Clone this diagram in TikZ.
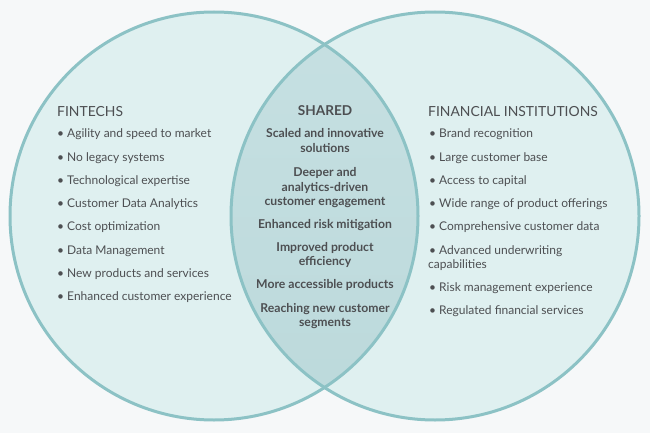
\documentclass[tikz,border=0pt]{standalone}
\usepackage{fontspec}
\setmainfont{Lato}
\definecolor{bgc}{HTML}{F6F8F9}
\definecolor{circfill}{HTML}{DFF0F0}
\definecolor{lensfill}{HTML}{C6E0E2}
\definecolor{lensdark}{HTML}{BCD9DB}
\definecolor{ringc}{HTML}{8CC2C5}
\definecolor{txtc}{HTML}{4D4F52}
\begin{document}
\begin{tikzpicture}[x=1pt,y=-1pt,
  ring/.style={draw=ringc, line width=3pt},
  ttl/.style={font=\fontsize{13.9}{16}\selectfont, text=txtc, inner sep=0pt, anchor=base west},
  ttlc/.style={font=\fontsize{13.6}{16}\selectfont\bfseries, text=txtc, inner sep=0pt, anchor=base},
  itm/.style={font=\fontsize{12}{14}\selectfont, text=txtc, inner sep=0pt, anchor=base west},
  shr/.style={font=\fontsize{12.2}{14}\selectfont\bfseries, text=txtc, inner sep=0pt, anchor=base}]
\fill[bgc] (0,0) rectangle (650,433);
\useasboundingbox (0,0) rectangle (650,433);
\coordinate (cl) at (214,216);
\coordinate (cr) at (435,216);
\fill[circfill] (cl) circle[radius=204pt];
\fill[circfill] (cr) circle[radius=204pt];
\begin{scope}
  \clip (cl) circle[radius=204pt];
  \shade[top color=lensfill, bottom color=lensdark] (cr) circle[radius=204pt];
\end{scope}
\draw[ring] (cl) circle[radius=204pt];
\draw[ring] (cr) circle[radius=204pt];

% Left
\node[ttl] (lt) at (57,117) {FINTECHS};
\node[itm] (l1) at (57,137.5) {• Agility and speed to market};
\node[itm] (l2) at (57,161) {• No legacy systems};
\node[itm] (l3) at (57,184.5) {• Technological expertise};
\node[itm] (l4) at (57,207.5) {• Customer Data Analytics};
\node[itm] (l5) at (57,230.5) {• Cost optimization};
\node[itm] (l6) at (57,254) {• Data Management};
\node[itm] (l7) at (57,277.5) {• New products and services};
\node[itm] (l8) at (57,300.5) {• Enhanced customer experience};

% Right
\node[ttl] (rt) at (428,117) {FINANCIAL INSTITUTIONS};
\node[itm] (r1) at (429,137.5) {• Brand recognition};
\node[itm] (r2) at (429,161) {• Large customer base};
\node[itm] (r3) at (429,184.5) {• Access to capital};
\node[itm] (r4) at (429,207.5) {• Wide range of product offerings};
\node[itm] (r5) at (429,230.5) {• Comprehensive customer data};
\node[itm] (r6) at (429,254) {• Advanced underwriting};
\node[itm] (r6b) at (428,268.5) {capabilities};
\node[itm] (r7) at (429,291.5) {• Risk management experience};
\node[itm] (r8) at (429,314.5) {• Regulated financial services};

% Shared
\node[ttlc] (st) at (325,116) {SHARED};
\node[shr] (s1a) at (325,137.5) {Scaled and innovative};
\node[shr] (s1b) at (325,152) {solutions};
\node[shr] (s2a) at (325,176.5) {Deeper and};
\node[shr] (s2b) at (325,191) {analytics-driven};
\node[shr] (s2c) at (325,205.5) {customer engagement};
\node[shr] (s3) at (325,228) {Enhanced risk mitigation};
\node[shr] (s4a) at (325,251) {Improved product};
\node[shr] (s4b) at (325,265.5) {efficiency};
\node[shr] (s5) at (325,288.5) {More accessible products};
\node[shr] (s6a) at (325,312) {Reaching new customer};
\node[shr] (s6b) at (325,326.5) {segments};
\end{tikzpicture}
\end{document}
